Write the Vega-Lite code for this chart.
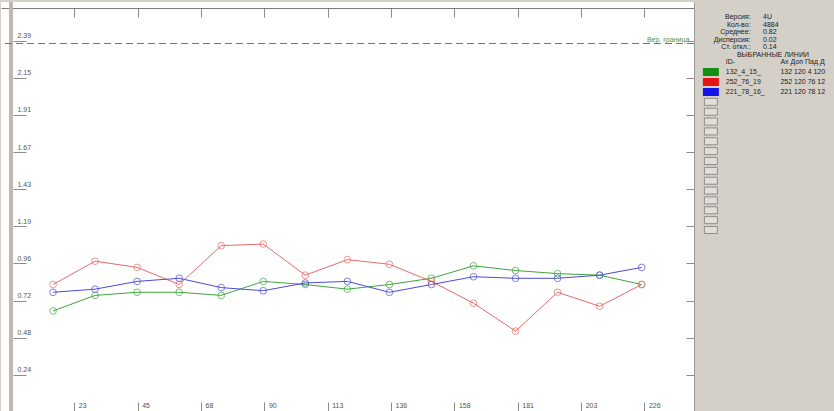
{
  "$schema": "https://vega.github.io/schema/vega-lite/v6.json",
  "background": "#d4d0c8",
  "padding": 0,
  "spacing": 2,
  "bounds": "flush",
  "config": {"view": {"stroke": null}, "font": "Liberation Sans"},
  "datasets": {
    "lines": [
      {"id": "132_4_15_", "t": 15, "v": 0.65},
      {"id": "132_4_15_", "t": 30, "v": 0.75},
      {"id": "132_4_15_", "t": 45, "v": 0.77},
      {"id": "132_4_15_", "t": 60, "v": 0.77},
      {"id": "132_4_15_", "t": 75, "v": 0.75},
      {"id": "132_4_15_", "t": 90, "v": 0.84},
      {"id": "132_4_15_", "t": 105, "v": 0.82},
      {"id": "132_4_15_", "t": 120, "v": 0.79},
      {"id": "132_4_15_", "t": 135, "v": 0.82},
      {"id": "132_4_15_", "t": 150, "v": 0.86},
      {"id": "132_4_15_", "t": 165, "v": 0.94},
      {"id": "132_4_15_", "t": 180, "v": 0.91},
      {"id": "132_4_15_", "t": 195, "v": 0.89},
      {"id": "132_4_15_", "t": 210, "v": 0.88},
      {"id": "132_4_15_", "t": 225, "v": 0.82},
      {"id": "252_76_19", "t": 15, "v": 0.82},
      {"id": "252_76_19", "t": 30, "v": 0.97},
      {"id": "252_76_19", "t": 45, "v": 0.93},
      {"id": "252_76_19", "t": 60, "v": 0.82},
      {"id": "252_76_19", "t": 75, "v": 1.07},
      {"id": "252_76_19", "t": 90, "v": 1.08},
      {"id": "252_76_19", "t": 105, "v": 0.88},
      {"id": "252_76_19", "t": 120, "v": 0.98},
      {"id": "252_76_19", "t": 135, "v": 0.95},
      {"id": "252_76_19", "t": 150, "v": 0.84},
      {"id": "252_76_19", "t": 165, "v": 0.70},
      {"id": "252_76_19", "t": 180, "v": 0.52},
      {"id": "252_76_19", "t": 195, "v": 0.77},
      {"id": "252_76_19", "t": 210, "v": 0.68},
      {"id": "252_76_19", "t": 225, "v": 0.82},
      {"id": "221_78_16_", "t": 15, "v": 0.77},
      {"id": "221_78_16_", "t": 30, "v": 0.79},
      {"id": "221_78_16_", "t": 45, "v": 0.84},
      {"id": "221_78_16_", "t": 60, "v": 0.86},
      {"id": "221_78_16_", "t": 75, "v": 0.80},
      {"id": "221_78_16_", "t": 90, "v": 0.78},
      {"id": "221_78_16_", "t": 105, "v": 0.83},
      {"id": "221_78_16_", "t": 120, "v": 0.84},
      {"id": "221_78_16_", "t": 135, "v": 0.77},
      {"id": "221_78_16_", "t": 150, "v": 0.82},
      {"id": "221_78_16_", "t": 165, "v": 0.87},
      {"id": "221_78_16_", "t": 180, "v": 0.86},
      {"id": "221_78_16_", "t": 195, "v": 0.86},
      {"id": "221_78_16_", "t": 210, "v": 0.88},
      {"id": "221_78_16_", "t": 225, "v": 0.93}
    ],
    "stats": [
      {"row": 1, "label": "Версия:", "value": "4U"},
      {"row": 2, "label": "Кол-во:", "value": "4884"},
      {"row": 3, "label": "Среднее:", "value": "0.82"},
      {"row": 4, "label": "Дисперсия:", "value": "0.02"},
      {"row": 5, "label": "Ст. откл.:", "value": "0.14"}
    ],
    "selected": [
      {"row": 1, "id": "132_4_15_", "fields": "132 120 4 120"},
      {"row": 2, "id": "252_76_19", "fields": "252 120 76 12"},
      {"row": 3, "id": "221_78_16_", "fields": "221 120 78 12"}
    ],
    "slots": [
      {"row": 1}, {"row": 2}, {"row": 3}, {"row": 4}, {"row": 5}, {"row": 6}, {"row": 7},
      {"row": 8}, {"row": 9}, {"row": 10}, {"row": 11}, {"row": 12}, {"row": 13}, {"row": 14}
    ]
  },
  "hconcat": [
    {
      "width": 693,
      "height": 410,
      "view": {"fill": "#ffffff", "stroke": null},
      "resolve": {"axis": {"x": "independent", "y": "independent"}},
      "layer": [
        {
          "data": {"values": [{}]},
          "mark": {"type": "rule", "color": "#bdb9ae", "strokeWidth": 4},
          "encoding": {
            "x": {"datum": 0, "type": "quantitative", "scale": {"domain": [-3.57, 243.67], "nice": false, "zero": false}, "axis": null}
          }
        },
        {
          "data": {"values": [{}]},
          "mark": {"type": "rule", "color": "#3f9a3f", "strokeWidth": 1, "strokeDash": [7, 4]},
          "encoding": {
            "y": {"datum": 2.37, "type": "quantitative", "scale": {"domain": [0, 2.637], "nice": false}, "axis": null}
          }
        },
        {
          "data": {"values": [{"note": "Вер. граница"}]},
          "mark": {"type": "text", "align": "right", "baseline": "bottom", "dy": -1, "fontSize": 7, "color": "#3f9a3f"},
          "encoding": {
            "x": {"datum": 242, "type": "quantitative", "axis": null},
            "y": {"datum": 2.37, "type": "quantitative", "axis": null},
            "text": {"field": "note"}
          }
        },
        {
          "data": {"name": "lines"},
          "mark": {"type": "line", "strokeWidth": 1},
          "encoding": {
            "x": {
              "field": "t", "type": "quantitative",
              "scale": {"domain": [-3.57, 243.67], "nice": false, "zero": false},
              "axis": {
                "orient": "bottom", "title": null, "grid": false,
                "values": [22.6, 45.2, 67.8, 90.4, 113, 135.6, 158.2, 180.8, 203.4, 226],
                "format": ".0f", "tickSize": -10, "tickColor": "#8c8c8c",
                "labelPadding": 3, "labelAlign": "left", "labelBaseline": "middle", "labelOffset": 4,
                "labelFontSize": 7, "labelColor": "#555555", "labelFlush": false, "labelOverlap": false,
                "domainColor": "#a0a0a0"
              }
            },
            "y": {
              "field": "v", "type": "quantitative",
              "scale": {"domain": [0, 2.637], "nice": false},
              "axis": {
                "orient": "left", "title": null, "grid": false, "domain": false, "offset": -12,
                "values": [0.2388, 0.4776, 0.7164, 0.9552, 1.194, 1.4328, 1.6716, 1.9104, 2.1492, 2.388],
                "format": ".2f", "tickSize": -13, "tickColor": "#8c8c8c",
                "labelPadding": 9, "labelAlign": "left", "labelBaseline": "middle", "labelOffset": -5,
                "labelFontSize": 7, "labelColor": "#555555", "labelFlush": false, "labelOverlap": false
              }
            },
            "color": {
              "field": "id", "type": "nominal",
              "scale": {"domain": ["132_4_15_", "252_76_19", "221_78_16_"], "range": ["#3ea63e", "#e66a6a", "#4b4bd8"]},
              "legend": null
            }
          }
        },
        {
          "data": {"name": "lines"},
          "mark": {"type": "point", "filled": false, "size": 45, "strokeWidth": 1},
          "encoding": {
            "x": {
              "field": "t", "type": "quantitative",
              "axis": {
                "orient": "top", "title": null, "grid": false, "labels": false, "offset": -6,
                "values": [22.6, 45.2, 67.8, 90.4, 113, 135.6, 158.2, 180.8, 203.4, 226],
                "tickSize": -9, "tickColor": "#8c8c8c", "domainColor": "#7a7a7a"
              }
            },
            "y": {
              "field": "v", "type": "quantitative",
              "axis": {
                "orient": "right", "title": null, "grid": false, "labels": false,
                "values": [0.2388, 0.4776, 0.7164, 0.9552, 1.194, 1.4328, 1.6716, 1.9104, 2.1492, 2.388],
                "tickSize": -8, "tickColor": "#8c8c8c", "domainColor": "#9a9a9a"
              }
            },
            "color": {"field": "id", "type": "nominal", "legend": null}
          }
        }
      ]
    },
    {
      "spacing": 0,
      "bounds": "flush",
      "vconcat": [
        {
          "width": 139,
          "height": 60,
          "layer": [
            {
              "data": {"name": "stats"},
              "mark": {"type": "text", "align": "right", "baseline": "middle", "fontSize": 7, "color": "#222222"},
              "encoding": {
                "x": {"datum": 11, "type": "quantitative", "scale": {"domain": [0, 28], "nice": false, "zero": false}, "axis": null},
                "y": {"field": "row", "type": "ordinal", "scale": {"type": "point", "domain": [1, 2, 3, 4, 5, 6, 7], "padding": 1, "align": 1}, "axis": null},
                "text": {"field": "label"}
              }
            },
            {
              "data": {"name": "stats"},
              "mark": {"type": "text", "align": "left", "baseline": "middle", "fontSize": 7, "color": "#222222"},
              "encoding": {
                "x": {"datum": 13.5, "type": "quantitative", "axis": null},
                "y": {"field": "row", "type": "ordinal", "axis": null},
                "text": {"field": "value"}
              }
            },
            {
              "data": {"values": [{"row": 6, "label": "ВЫБРАННЫЕ ЛИНИИ"}]},
              "mark": {"type": "text", "align": "center", "baseline": "middle", "fontSize": 7, "color": "#222222"},
              "encoding": {
                "x": {"datum": 15.5, "type": "quantitative", "axis": null},
                "y": {"field": "row", "type": "ordinal", "axis": null},
                "text": {"field": "label"}
              }
            },
            {
              "data": {"values": [{"row": 7, "label": "ID-"}]},
              "mark": {"type": "text", "align": "left", "baseline": "middle", "fontSize": 7, "color": "#222222"},
              "encoding": {
                "x": {"datum": 6, "type": "quantitative", "axis": null},
                "y": {"field": "row", "type": "ordinal", "axis": null},
                "text": {"field": "label"}
              }
            },
            {
              "data": {"values": [{"row": 7, "label": "Ах  Доп  Пад Д"}]},
              "mark": {"type": "text", "align": "left", "baseline": "middle", "fontSize": 7, "color": "#222222"},
              "encoding": {
                "x": {"datum": 17, "type": "quantitative", "axis": null},
                "y": {"field": "row", "type": "ordinal", "axis": null},
                "text": {"field": "label"}
              }
            }
          ]
        },
        {
          "width": 139,
          "height": 30,
          "data": {"name": "selected"},
          "layer": [
            {
              "mark": {"type": "point", "shape": "M-1,-0.5L1,-0.5L1,0.5L-1,0.5Z", "size": 256, "filled": true, "opacity": 1, "strokeWidth": 0},
              "encoding": {
                "x": {"datum": 3, "type": "quantitative", "scale": {"domain": [0, 28], "nice": false, "zero": false}, "axis": null},
                "y": {"field": "row", "type": "ordinal", "scale": {"type": "point", "domain": [1, 2, 3], "padding": 0.5, "align": 1}, "axis": null},
                "fill": {"field": "id", "type": "nominal", "scale": {"domain": ["132_4_15_", "252_76_19", "221_78_16_"], "range": ["#129012", "#e81414", "#1414e8"]}, "legend": null}
              }
            },
            {
              "mark": {"type": "text", "align": "left", "baseline": "middle", "fontSize": 7, "color": "#222222"},
              "encoding": {
                "x": {"datum": 6, "type": "quantitative", "axis": null},
                "y": {"field": "row", "type": "ordinal", "axis": null},
                "text": {"field": "id"}
              }
            },
            {
              "mark": {"type": "text", "align": "left", "baseline": "middle", "fontSize": 7, "color": "#222222"},
              "encoding": {
                "x": {"datum": 17, "type": "quantitative", "axis": null},
                "y": {"field": "row", "type": "ordinal", "axis": null},
                "text": {"field": "fields"}
              }
            }
          ]
        },
        {
          "width": 139,
          "height": 138,
          "data": {"name": "slots"},
          "mark": {"type": "point", "shape": "M-1,-0.54L1,-0.54L1,0.54L-1,0.54Z", "size": 169, "filled": true, "fill": "#e2dfd8", "stroke": "#8e8e8e", "strokeWidth": 1, "opacity": 1},
          "encoding": {
            "x": {"datum": 3, "type": "quantitative", "scale": {"domain": [0, 28], "nice": false, "zero": false}, "axis": null},
            "y": {"field": "row", "type": "ordinal", "scale": {"type": "point", "padding": 0.5, "align": 1}, "axis": null}
          }
        }
      ]
    }
  ]
}
